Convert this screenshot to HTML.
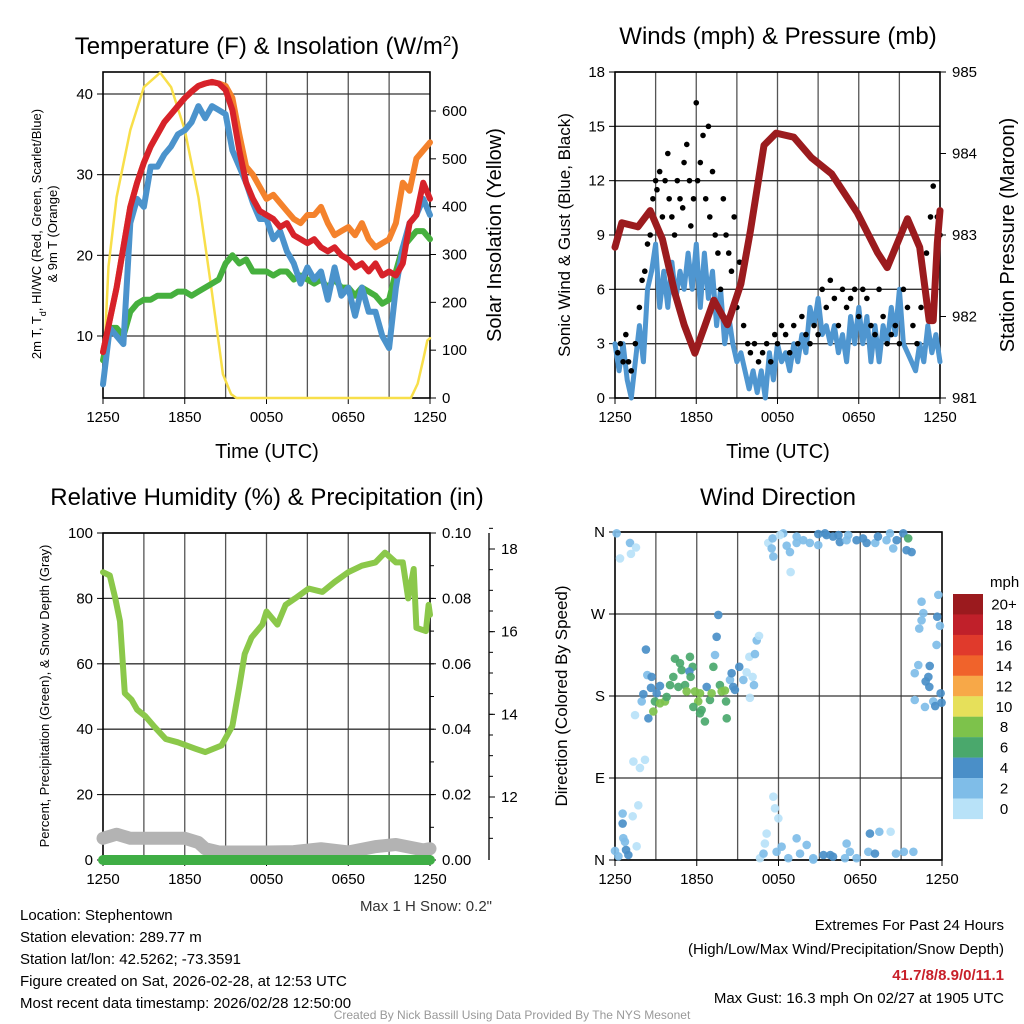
<!DOCTYPE html>
<html><head><meta charset="utf-8"><style>
body{margin:0;background:#fff;}
svg{display:block;font-family:"Liberation Sans",Arial,sans-serif;}
</style></head><body>
<svg id="s" width="1024" height="1024" viewBox="0 0 1024 1024" xmlns="http://www.w3.org/2000/svg">
<g id="g"></g>
<text x="267" y="54" font-size="24" text-anchor="middle">Temperature (F) &amp; Insolation (W/m<tspan baseline-shift="super" font-size="15">2</tspan>)</text>
<text x="778" y="44" font-size="24" text-anchor="middle">Winds (mph) &amp; Pressure (mb)</text>
<text x="267" y="505" font-size="24" text-anchor="middle">Relative Humidity (%) &amp; Precipitation (in)</text>
<text x="778" y="505" font-size="24" text-anchor="middle">Wind Direction</text>
<text x="267" y="458" font-size="20" text-anchor="middle">Time (UTC)</text>
<text x="778" y="458" font-size="20" text-anchor="middle">Time (UTC)</text>
<text transform="translate(41,234) rotate(-90)" font-size="13" text-anchor="middle">2m T, T<tspan baseline-shift="sub" font-size="9">d</tspan>, HI/WC (Red, Green, Scarlet/Blue)</text>
<text transform="translate(57,234) rotate(-90)" font-size="13" text-anchor="middle">&amp; 9m T (Orange)</text>
<text transform="translate(501,235) rotate(-90)" font-size="20" text-anchor="middle">Solar Insolation (Yellow)</text>
<text transform="translate(570,235) rotate(-90)" font-size="17" text-anchor="middle">Sonic Wind &amp; Gust (Blue, Black)</text>
<text transform="translate(1014,235) rotate(-90)" font-size="20" text-anchor="middle">Station Pressure (Maroon)</text>
<text transform="translate(49,696) rotate(-90)" font-size="13" text-anchor="middle">Percent, Precipitation (Green), &amp; Snow Depth (Gray)</text>
<text transform="translate(567,696) rotate(-90)" font-size="17" text-anchor="middle">Direction (Colored By Speed)</text>
<text x="492" y="911" font-size="15" text-anchor="end" fill="#333">Max 1 H Snow: 0.2"</text>
<g font-size="15">
<text x="20" y="920">Location: Stephentown</text>
<text x="20" y="942">Station elevation: 289.77 m</text>
<text x="20" y="964">Station lat/lon: 42.5262; -73.3591</text>
<text x="20" y="986">Figure created on Sat, 2026-02-28, at 12:53 UTC</text>
<text x="20" y="1008">Most recent data timestamp: 2026/02/28 12:50:00</text>
</g>
<g font-size="15" text-anchor="end">
<text x="1004" y="930">Extremes For Past 24 Hours</text>
<text x="1004" y="954">(High/Low/Max Wind/Precipitation/Snow Depth)</text>
<text x="1004" y="980" fill="#c8202a" font-weight="bold">41.7/8/8.9/0/11.1</text>
<text x="1004" y="1003">Max Gust: 16.3 mph On 02/27 at 1905 UTC</text>
</g>
<text x="512" y="1019" font-size="12" fill="#999" text-anchor="middle">Created By Nick Bassill Using Data Provided By The NYS Mesonet</text>
</svg>
<script>
// ---------- data ----------
const xTickLabels = ["1250","1850","0050","0650","1250"];
const halfHours = [0,0.5,1,1.5,2,2.5,3,3.5,4,4.5,5,5.5,6,6.5,7,7.5,8,8.5,9,9.5,10,10.5,11,11.5,12,12.5,13,13.5,14,14.5,15,15.5,16,16.5,17,17.5,18,18.5,19,19.5,20,20.5,21,21.5,22,22.5,23,23.5,24];
const tempRed = [8,12,16,21,26,29,31.5,33.5,35,36.5,37.5,38.5,39.5,40.3,41,41.3,41.5,41.3,40.5,38,33,29,27,25.5,25,24.5,23.5,24,22.5,22,21.5,22,21,20.5,21,20,19.5,18.5,19,18,19,17.5,18,17.5,19,24,25,29,27];
const tempOrange = [8,12,16,21,26,29,31.5,33.5,35,36.5,37.5,38.5,39.5,40.3,41,41.3,41.5,41.3,41,39.5,35,31,30,28.5,27,27.5,26.5,25.5,24.5,24,25,25,26,24,22.5,23,23.5,22.5,24,22,21,21.5,22,24,29,28,32,33,34];
const tempBlue = [4,11,10,9,24,27,26,31,31,32.5,33.5,35,35.5,36.5,38.5,37,38.5,38,37.5,33,31,29,26.5,24.5,24.5,22,23,20.5,19,16.5,18.5,17,18,14.5,18.5,15,16,12.5,16,13,13,10,8.5,16,21,24,25,27,25];
const tempGreen = [7,11,11,10,13,14,14.5,14.5,15,15,15,15.5,15.5,15,15.5,16,16.5,17,19,20,19,19.5,18,18,18,17.5,18,18,17,17.5,17,16.5,17,16,17,16,16,15,16,15.5,15,14,14.5,18,21,22,23,23,22];
const solarHours = [0,0.1,0.4,1,2,3,4.2,5,6,7,8,8.8,9.4,9.8,22.6,23.1,23.5,23.8,24];
const solarValues = [90,95,275,420,560,650,680,650,560,420,220,50,8,0,0,30,80,120,125];
const tempTicks = [10,20,30,40];
const solarTicks = [0,100,200,300,400,500,600];

const windHours = [0,0.3,0.6,0.9,1.2,1.5,1.8,2.1,2.4,2.7,3,3.3,3.6,3.9,4.2,4.5,4.8,5.1,5.4,5.7,6,6.3,6.6,6.9,7.2,7.5,7.8,8.1,8.4,8.7,9,9.3,9.6,9.9,10.2,10.5,10.8,11.1,11.4,11.7,12,12.3,12.6,12.9,13.2,13.5,13.8,14.1,14.4,14.7,15,15.3,15.6,15.9,16.2,16.5,16.8,17.1,17.4,17.7,18,18.3,18.6,18.9,19.2,19.5,19.8,20.1,20.4,20.7,21,21.3,21.6,21.9,22.2,22.5,22.8,23.1,23.4,23.7,24];
const windSpeed = [3,1.5,3,1,0,2,4,2,6,7,8.5,5,7,5,7.5,5.5,7,6,8,6,8.5,5,8,5.5,7,4,6,3,4.5,3,2,2.5,1.5,0.5,1.5,0.3,1.5,0,2.5,1,3,2,2.5,1.5,3,2,3.5,2.5,5,4,5.5,3.5,4,3,4,2.5,3.5,2,4.5,3,5,3,4.5,2,4,2,4,3,5,3.5,6,3,2.5,2,1.5,3,2,4,2.5,3.5,2];
const gustHours = [0.2,0.4,0.6,0.8,1,1.2,1.5,1.8,2,2.2,2.4,2.6,2.8,3,3.1,3.3,3.5,3.7,3.9,4,4.2,4.4,4.6,4.8,5,5.1,5.3,5.5,5.6,5.8,6,6.1,6.3,6.5,6.7,6.9,7,7.2,7.4,7.6,7.8,8,8.2,8.4,8.6,8.8,9,9.2,9.5,9.8,10,10.3,10.6,10.9,11.2,11.5,11.8,12,12.3,12.6,12.9,13.2,13.5,13.8,14.1,14.4,14.7,15,15.3,15.6,15.9,16.2,16.5,16.8,17.1,17.4,17.7,18,18.3,18.6,18.9,19.2,19.5,19.8,20.1,20.4,20.7,21,21.3,21.6,22,22.3,22.6,23,23.3,23.5,23.8,24];
const gustSpeed = [2.5,3,2,3.5,2,1.5,3,5,6.5,7,8.5,9,11,12,11.5,12.5,10,12,13.5,11,10,9,12,11,10.5,13,14,12,9.5,11,16.3,12,13,14.5,11,15,10,12.5,9,8,6,11,9,8,7,10,5,7.5,4,3,2.5,3,2,2.5,3,2,3.5,3,4,3.5,2.5,4,3,4.5,3.5,3,4,3.5,6,5,6.5,5.5,4,6,5,5.5,6,4.5,6,5.5,4,3.5,6,4.5,3,3.5,4,3,6,5,4,3,5,8,10,11.7,10,9];
const pressHours = [0,0.5,1.7,2.6,3.5,4.4,5.1,5.9,6.6,7.3,8.3,9.3,10,11,11.9,13.2,14.5,16,17.9,19.4,20.1,21.6,22.5,23.2,23.5,23.8,24];
const pressValues = [982.85,983.15,983.1,983.3,982.95,982.3,981.9,981.55,981.87,982.2,981.9,982.4,983.05,984.1,984.25,984.2,983.95,983.75,983.27,982.78,982.6,983.2,982.85,981.95,981.95,982.9,983.3];
const windTicks = [0,3,6,9,12,15,18];
const pressTicks = [981,982,983,984,985];

const rhHours = [0,0.5,0.9,1.25,1.6,2.1,2.5,3.1,3.8,4.6,5.5,6.8,7.5,8.7,9.5,10,10.4,10.9,11.7,12,12.8,13.4,14.1,15.1,16.1,17,18,19,20,20.7,21.5,22,22.4,22.8,23,23.7,23.9,24];
const rhValues = [88,87,80,73,51,49,46,44,40.6,37,36,34,33,35,41,53,63,68,72,76,72,78,80,83,82,85,88,90,91,94,91,91,80,89,71,70,78,75];
const snowHours = [0,1,2,4,6,7,7.5,8.5,12,14,16,18,20,21.5,23.5,24];
const snowDepth = [11.0,11.1,11.0,11.0,11.0,10.9,10.75,10.67,10.67,10.68,10.75,10.67,10.8,10.85,10.72,10.75];
const precipHours = [0,24];
const precipValues = [0,0];
const rhTicks = [0,20,40,60,80,100];
const precipTicks = ["0.00","0.02","0.04","0.06","0.08","0.10"];
const snowTicks = [12,14,16,18];

const dirHours = [0.12,1.1,1.54,0.37,1.17,0,0.25,0.98,0.81,0.61,0.73,0.56,0.56,1.3,1.71,1.59,1.35,1.83,2.2,1.47,2.45,1.96,2.08,2.64,2.37,2.69,2.27,3.06,3.3,2.93,3.3,2.81,3.67,3.79,4.04,4.4,4.77,4.89,4.28,4.65,5.14,5.5,5.7,5.46,5.55,5.26,5.87,6.24,6.11,5.75,6.36,6.24,6.6,6.73,6.97,7.09,7.22,7.34,7.46,7.58,7.7,7.83,8.07,8.15,8.2,8.44,8.56,8.68,8.8,9.12,9.42,9.66,9.86,10.1,10.27,10.4,10.57,10.2,9.9,11.25,11.5,11.62,11.57,12.35,12.84,12.89,12.6,13.33,13.82,14.3,14.92,15.53,16,16.5,17,17.73,18.2,18.47,19.1,19.3,19.93,20.18,20.42,20.67,21.16,21.52,21.77,21.4,16.4,14.92,15.41,17.12,12.1,13.33,23.73,22.5,22.63,22.5,22.33,23.65,23.85,23.6,22.26,22,23.1,23,22.8,23.07,23.9,22,22.75,23.36,23.5,23.97,11.62,11.74,11.99,11.13,11,10.64,10.9,12.23,11.86,12.72,13.33,13.58,14.07,14.55,15.3,15.8,16,16.88,17,17.24,17.73,18.71,19.4,20.23,18.59,19.08,20.62,21.2,21.9,14.55];
const dirDegrees = [358.6,348,343,331,336,10,4,5.5,11,24,20,51,40,48,60,15,108,101,110,159,155.5,174,182,189,203,201,231,183,191,174,172,163,174,179,192,221,216,208.5,201,190,192,223,212,207,201,185,185,183,174,168,164.6,161,152,190,175.6,183,212,225,245,269,192,185,186,174,155.5,197.6,205,190,186.7,212,197.6,206,223,201,226,241,246,192,178,348,342,333,353,358.6,338,316,345,355,351,348,345.6,356.6,355,349,351,351,353,348,348,355,351,358.6,342,351,358.6,353,338,340,356.6,357.7,358.6,356.6,356.6,348,291,283.5,271,263,254,267,257,236,214,205,213,201,196,190,183,175.6,168,174,169,172.7,69.5,56.7,45.7,29,18,2,7,14.6,9,2,23.8,7,16.5,2,5.5,5.5,3.7,2,18,9,2,29,31,31,9,7,7,9,9,0.5];
const dirSpeeds = [3,3,1,1,1,3,3,5,5,3,3,3,5,1,1,1,1,1,1,1,5,3,5,5,3,5,5,5,5,7,9,9,9,7,7,7,7,7,7,7,7,7,7,5,7,9,9,9,9,7,7,7,7,5,7,9,7,3,5,5,7,9,9,7,7,3,5,5,5,5,3,1,1,1,3,3,1,3,1,1,3,3,3,3,3,1,3,3,3,3,3,5,5,5,3,5,5,5,3,5,3,3,3,5,5,7,5,5,5,5,5,3,1,3,3,3,3,3,3,5,3,3,3,3,5,5,5,5,5,3,3,3,5,5,1,1,1,1,1,1,3,3,3,3,3,3,3,3,5,5,5,3,3,3,3,5,3,1,3,5,3,3,3,3];
const colorLabels = ["20+","18","16","14","12","10","8","6","4","2","0"];
const colorFills = ["#9b1a1e","#c0202a","#e03a2c","#f0632b","#f7a848","#e6e05a","#7dc24b","#4aa86c","#4a8fc8","#7fbde8","#b8e2f8"];
const dirTickLabels = ["N","E","S","W","N"];

// ---------- helpers ----------
const NS="http://www.w3.org/2000/svg";
const root=document.getElementById('g');
function mk(tag,attrs,parent){const e=document.createElementNS(NS,tag);for(const k in attrs)e.setAttribute(k,attrs[k]);(parent||root).appendChild(e);return e;}
function lin(d0,d1,r0,r1){return v=>r0+(v-d0)*(r1-r0)/(d1-d0);}
function pathFrom(xs,ys,fx,fy){let d='';for(let i=0;i<xs.length;i++){if(ys[i]==null)continue;d+=(d?'L':'M')+fx(xs[i]).toFixed(1)+','+fy(ys[i]).toFixed(1);}return d;}

function frame(L,R,T,B,name,gridYs,xl){
  const g=mk('g',{});
  
  
  const hx=lin(0,24,L,R);
  for(let h=3;h<24;h+=3){const l=mk('line',{x1:hx(h),x2:hx(h),y1:T,y2:B,stroke:'#555','stroke-width':1.3},g);}
  gridYs.forEach(y=>{const l=mk('line',{x1:L,x2:R,y1:y,y2:y,stroke:'#333','stroke-width':1.3},g);});
  const r=mk('rect',{x:L,y:T,width:R-L,height:B-T,fill:'none',stroke:'#000','stroke-width':1.6},g);
  
  
  xTickLabels.forEach((t,i)=>{const x=hx(i*6);
    mk('line',{x1:x,x2:x,y1:B,y2:B+6,stroke:'#000'},g);
    if(xl){const tx=mk('text',{x:x,y:B+24,'font-size':15,'text-anchor':'middle'},g);tx.textContent=t;}
  });
  return g;
}
function yTick(g,x,y,label,side,name){
  mk('line',{x1:x,x2:x+(side<0?-6:6),y1:y,y2:y,stroke:'#000'},g);
  const t=mk('text',{x:x+(side<0?-10:12),y:y+5,'font-size':15,'text-anchor':side<0?'end':'start'},g);
  t.textContent=label;
  
  
}
function line(xs,ys,fx,fy,color,w,name,parent){
  const p=mk('path',{d:pathFrom(xs,ys,fx,fy),fill:'none',stroke:color,'stroke-width':w,'stroke-linecap':'round','stroke-linejoin':'round'},parent);
  
  
  return p;
}

// ---------- Panel 1: temperature ----------
{
  const L=103,R=430,T=72,B=398;
  const hx=lin(0,24,L,R), ty=lin(40,10,94,336), sy=lin(0,600,398,111);
  const g=frame(L,R,T,B,'temp',tempTicks.map(ty),true);
  tempTicks.forEach(v=>yTick(g,L,ty(v),String(v),-1,'temp-y-tick-label'));
  solarTicks.forEach(v=>yTick(g,R,sy(v),String(v),1,'solar-y-tick-label'));
  const c=mk('g',{});
  
  
  line(solarHours,solarValues,hx,sy,'#f8df4a',2.5,'solar-insolation-line',c);
  line(halfHours,tempOrange,hx,ty,'#f4822c',6,'temp-9m-line',c);
  line(halfHours,tempGreen,hx,ty,'#46b03e',6,'dewpoint-line',c);
  line(halfHours,tempBlue,hx,ty,'#4b93cc',6,'windchill-line',c);
  line(halfHours,tempRed,hx,ty,'#d7222a',6,'temp-2m-line',c);
}
// ---------- Panel 2: winds ----------
{
  const L=615,R=940,T=72,B=398;
  const hx=lin(0,24,L,R), wy=lin(0,18,398,72), py=lin(981,985,398,72);
  const g=frame(L,R,T,B,'wind',windTicks.map(wy),true);
  windTicks.forEach(v=>yTick(g,L,wy(v),String(v),-1,'wind-y-tick-label'));
  pressTicks.forEach(v=>yTick(g,R,py(v),String(v),1,'pressure-y-tick-label'));
  const c=mk('g',{});
  
  
  line(windHours,windSpeed,hx,wy,'#4f96d0',5,'sonic-wind-line',c);
  gustHours.forEach((h,i)=>{const d=mk('circle',{cx:hx(h),cy:wy(gustSpeed[i]),r:2.8,fill:'#000'},c);});
  line(pressHours,pressValues,hx,py,'#9b1b1e',7,'pressure-line',c);
}
// ---------- Panel 3: RH ----------
{
  const L=103,R=430,T=533,B=860;
  const hx=lin(0,24,L,R), ry=lin(0,100,860,533), sny=lin(12,18,797,549), pry=lin(0,0.1,860,533);
  const g=frame(L,R,T,B,'rh',rhTicks.map(ry),true);
  rhTicks.forEach(v=>yTick(g,L,ry(v),String(v),-1,'rh-y-tick-label'));
  precipTicks.forEach(v=>yTick(g,R,pry(+v),v,1,'precip-y-tick-label'));
  for(let v=0.01;v<0.1;v+=0.01){mk('line',{x1:R,x2:R+4,y1:pry(v),y2:pry(v),stroke:'#000'},g);}
  const ax=mk('line',{x1:489,x2:489,y1:533,y2:860,stroke:'#000','stroke-width':1.3},g);
  
  
  snowTicks.forEach(v=>yTick(g,489,sny(v),String(v),1,'snow-y-tick-label'));
  for(let v=11;v<=18.5;v+=0.5){mk('line',{x1:489,x2:493,y1:sny(v),y2:sny(v),stroke:'#000'},g);}
  const c=mk('g',{});
  
  
  line(snowHours,snowDepth,hx,sny,'#b3b3b3',13,'snow-depth-line',c);
  line(precipHours,precipValues,hx,pry,'#3fae45',10,'precip-line',c);
  line(rhHours,rhValues,hx,ry,'#8bc84a',6,'rh-line',c);
}
// ---------- Panel 4: direction ----------
{
  const L=615,R=942,T=532,B=860;
  const hx=lin(0,24,L,R), dy=lin(0,360,860,532);
  const g=frame(L,R,T,B,'dir',[0,90,180,270,360].map(dy),true);
  dirTickLabels.forEach((t,i)=>yTick(g,L,dy(i*90),t,-1,'dir-y-tick-label'));
  const c=mk('g',{});
  
  
  dirHours.forEach((h,i)=>{
    const bin=Math.min(10,Math.floor(dirSpeeds[i]/2));
    const d=mk('circle',{cx:hx(h),cy:dy(dirDegrees[i]),r:4.3,fill:colorFills[10-bin],'fill-opacity':0.92},c);
    
    
  });
  const cb=mk('g',{});
  
  
  const t0=mk('text',{x:990,y:587,'font-size':15},cb);t0.textContent='mph';
  
  
  colorLabels.forEach((lab,i)=>{
    const y=594+i*20.45;
    const r=mk('rect',{x:953,y:y,width:30,height:20.6,fill:colorFills[i]},cb);
    
    
    const t=mk('text',{x:1004,y:y+15.5,'font-size':15,'text-anchor':'middle'},cb);
    t.textContent=lab;
    
    
  });
}
</script>
</body></html>
